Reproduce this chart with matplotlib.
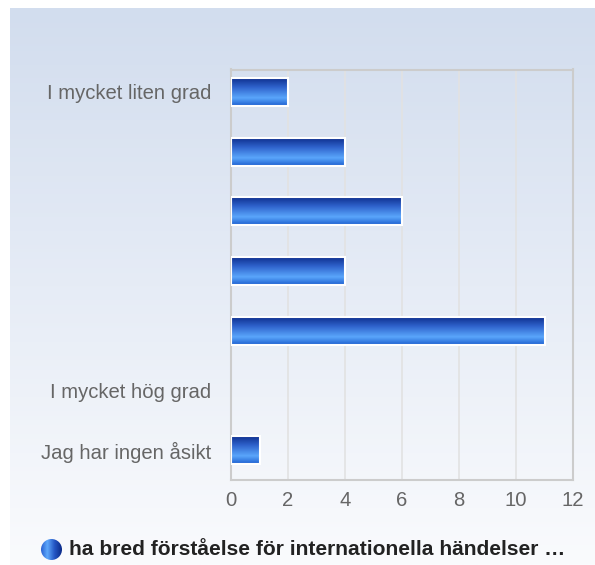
import numpy as np
import matplotlib
matplotlib.use("Agg")
import matplotlib.pyplot as plt
from matplotlib.colors import LinearSegmentedColormap
from matplotlib.patches import Circle

categories = ["I mycket liten grad", "", "", "", "", "I mycket hög grad", "Jag har ingen åsikt"]
values = [2, 4, 6, 4, 11, 0, 1]
xticks = [0, 2, 4, 6, 8, 10, 12]
legend_label = "ha bred förståelse för internationella händelser …"

plt.rcParams['font.family'] = ['Liberation Sans', 'DejaVu Sans']

W, H = 595, 565
fig = plt.figure(figsize=(W / 100, H / 100), dpi=100)
fig.patch.set_facecolor('white')

# background gradient panel
bg_ax = fig.add_axes([10 / W, 0, 1 - 10 / W, 1 - 8 / H])
bg_ax.set_axis_off()
bg_cmap = LinearSegmentedColormap.from_list('bg', ['#d2ddee', '#e6ecf6', '#fafbfd'])
bg_ax.imshow(np.linspace(0, 1, 256).reshape(-1, 1), aspect='auto', cmap=bg_cmap,
             extent=[0, 1, 0, 1], origin='upper')
bg_ax.set_xlim(0, 1)
bg_ax.set_ylim(0, 1)

# main axes
left, right, top, bottom = 231, 573, 69.5, 480
ax = fig.add_axes([left / W, 1 - bottom / H, (right - left) / W, (bottom - top) / H])
ax.patch.set_alpha(0)
n = len(categories)
ylim = (n - 1 + 0.503, -0.377)
ax.set_xlim(0, 12)
ax.set_ylim(*ylim)
ax.set_xticks(xticks)
ax.set_xticklabels([str(t) for t in xticks])
ax.set_yticks(range(n))
ax.set_yticklabels(categories)
ax.tick_params(axis='both', length=0, labelsize=14.6, labelcolor='#666666')
ax.tick_params(axis='x', pad=8)
ax.tick_params(axis='y', pad=14)
for s in ax.spines.values():
    s.set_color('#cccccc')
    s.set_linewidth(1.5)
ax.grid(axis='x', color='#e2e2e2', linewidth=1.2)
ax.set_axisbelow(True)

bar_cmap = LinearSegmentedColormap.from_list(
    'bar', [(0, '#0b2a88'), (0.35, '#2f63cc'), (0.72, '#5aa6fb'), (1.0, '#1d5fd0')])
grad = np.linspace(0, 1, 128).reshape(-1, 1)
bh = 0.47
bars = ax.barh(range(n), values, height=bh, color='none', edgecolor='white', linewidth=1.5, zorder=3)
for b in bars:
    w = b.get_width()
    if w <= 0:
        b.set_linewidth(0)
        continue
    y0 = b.get_y()
    im = ax.imshow(grad, aspect='auto', cmap=bar_cmap, extent=[0, w, y0 + bh, y0],
                   origin='upper', zorder=2)
    im.set_clip_path(b)
ax.set_xlim(0, 12)
ax.set_ylim(*ylim)

# legend
cx, cy, r = 51.5, 549.5, 10.5
lax = fig.add_axes([(cx - r) / W, 1 - (cy + r) / H, 2 * r / W, 2 * r / H])
lax.set_axis_off()
leg_cmap = LinearSegmentedColormap.from_list('leg', [(0, '#2a62d2'), (0.3, '#5ea8fb'), (0.65, '#2456c4'), (1, '#0b2a88')])
lim = lax.imshow(np.linspace(0, 1, 64).reshape(1, -1), aspect='auto', cmap=leg_cmap, extent=[-1, 1, -1, 1])
circ = Circle((0, 0), 1, transform=lax.transData)
lim.set_clip_path(circ)
lax.set_xlim(-1, 1)
lax.set_ylim(-1, 1)
fig.text(69 / W, 1 - cy / H, legend_label, fontsize=15.1, fontweight='bold', color='#222222',
         ha='left', va='center')

fig.savefig('out.png', dpi=100)
